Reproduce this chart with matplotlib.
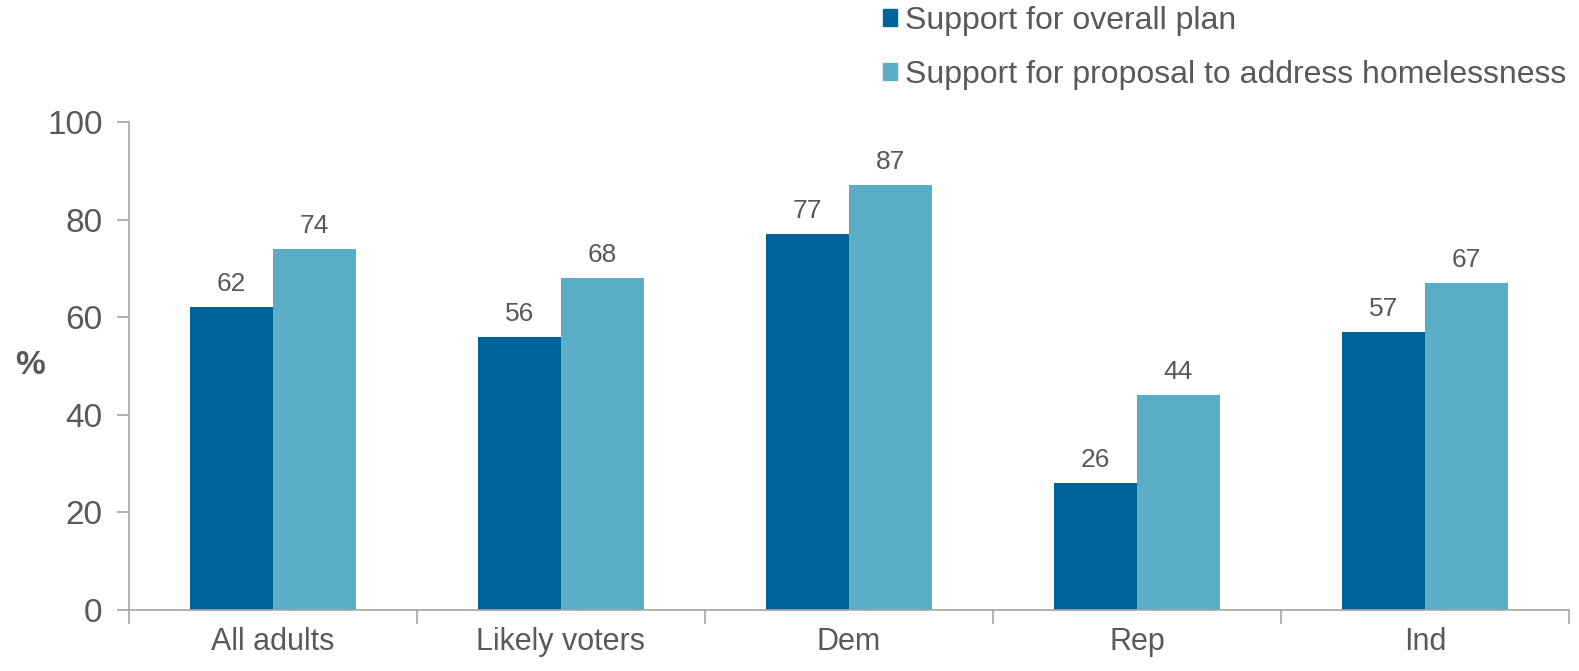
import matplotlib
matplotlib.use("Agg")
import matplotlib.pyplot as plt
from matplotlib.patches import Patch
import numpy as np

categories = ["All adults", "Likely voters", "Dem", "Rep", "Ind"]
overall_plan = [62, 56, 77, 26, 57]
homelessness = [74, 68, 87, 44, 67]
series_labels = ["Support for overall plan", "Support for proposal to address homelessness"]
yticks = [0, 20, 40, 60, 80, 100]

c_dark = "#00639A"
c_light = "#5AADC6"
txt = "#595959"
axc = "#A6A6A6"

plt.rcParams["font.family"] = ["Liberation Sans", "DejaVu Sans"]

fig = plt.figure(figsize=(15.79, 6.71), dpi=100)
ax = fig.add_axes([129/1579, 1 - 610/671, (1569 - 129)/1579, (610 - 122)/671])

x = np.arange(len(categories))
w = 0.2875
b1 = ax.bar(x - w/2, overall_plan, w, color=c_dark, label=series_labels[0])
b2 = ax.bar(x + w/2, homelessness, w, color=c_light, label=series_labels[1])

for bars, vals in ((b1, overall_plan), (b2, homelessness)):
    for r, v in zip(bars, vals):
        ax.annotate(f"{v}", (r.get_x() + r.get_width()/2, v), xytext=(0, 8),
                    textcoords="offset points", ha="center", va="bottom",
                    fontsize=19, color=txt)

ax.set_xlim(-0.5, len(categories) - 0.5)
ax.set_ylim(0, 100)
ax.set_yticks(yticks)
ax.set_xticks(x)
ax.set_xticklabels(categories)
ax.set_xticks(np.arange(-0.5, len(categories)), minor=True)
ax.tick_params(axis="x", which="major", length=0, pad=12, labelsize=22, labelcolor=txt)
ax.tick_params(axis="x", which="minor", length=10, width=1.2, color=axc, direction="out")
ax.tick_params(axis="y", length=9, width=1.2, color=axc, labelsize=24, labelcolor=txt, pad=10)

for s in ("top", "right"):
    ax.spines[s].set_visible(False)
for s in ("left", "bottom"):
    ax.spines[s].set_color(axc)
    ax.spines[s].set_linewidth(1.2)

ax.set_ylabel("%", rotation=0, fontsize=24, fontweight="bold", color=txt)
ax.yaxis.set_label_coords(-0.069, 0.5)
ax.yaxis.label.set_verticalalignment("center")

handles = [Patch(color=c_dark, label=series_labels[0]), Patch(color=c_light, label=series_labels[1])]
fig.legend(handles=handles, loc="upper left", bbox_to_anchor=(870/1579, 1 + 7/671),
           frameon=False, fontsize=23, labelcolor=txt, handlelength=0.45, handleheight=0.45,
           handletextpad=0.25, labelspacing=0.75, borderaxespad=0)

fig.savefig("out.png", dpi=100)
